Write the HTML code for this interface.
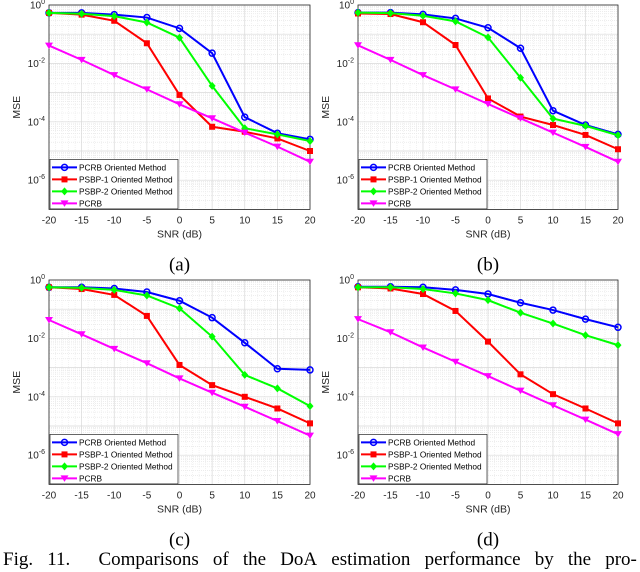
<!DOCTYPE html>
<html><head><meta charset="utf-8"><style>
html,body{margin:0;padding:0;background:#fff;width:640px;height:572px;overflow:hidden}
svg{display:block}
.cap{position:absolute;top:549px;font:19px "Liberation Serif",serif;color:#000;white-space:nowrap}
</style></head><body>
<svg id="fig" width="640" height="572" style="position:absolute;left:0;top:0"></svg>
<div class="cap" style="left:3px;width:634px;display:flex;justify-content:space-between"><span>Fig.</span><span>11.</span><span style="margin-left:14px">Comparisons</span><span>of</span><span>the</span><span>DoA</span><span>estimation</span><span>performance</span><span>by</span><span>the</span><span>pro-</span></div>
<script>
const snr=[-20,-15,-10,-5,0,5,10,15,20];
const xTicks=[-20,-15,-10,-5,0,5,10,15,20];
const yTicks=[0,-2,-4,-6];
const seriesNames=["PCRB Oriented Method","PSBP-1 Oriented Method","PSBP-2 Oriented Method","PCRB"];
// log10(MSE) per panel
const aBlue=[-0.27,-0.27,-0.33,-0.43,-0.8,-1.65,-3.84,-4.39,-4.6];
const aRed=[-0.27,-0.33,-0.54,-1.31,-3.08,-4.17,-4.34,-4.57,-5.0];
const aGreen=[-0.27,-0.3,-0.38,-0.6,-1.12,-2.77,-4.22,-4.43,-4.66];
const aMag=[-1.39,-1.88,-2.4,-2.89,-3.4,-3.88,-4.37,-4.85,-5.37];
const bBlue=[-0.26,-0.26,-0.32,-0.46,-0.78,-1.48,-3.62,-4.11,-4.43];
const bRed=[-0.29,-0.31,-0.59,-1.37,-3.2,-3.82,-4.11,-4.45,-4.94];
const bGreen=[-0.26,-0.28,-0.37,-0.56,-1.11,-2.49,-3.89,-4.14,-4.46];
const bMag=[-1.38,-1.88,-2.4,-2.89,-3.39,-3.88,-4.37,-4.86,-5.37];
const cBlue=[-0.25,-0.25,-0.29,-0.41,-0.71,-1.29,-2.15,-3.04,-3.08];
const cRed=[-0.25,-0.31,-0.51,-1.23,-2.91,-3.6,-4.0,-4.4,-4.91];
const cGreen=[-0.25,-0.27,-0.34,-0.53,-0.97,-1.94,-3.25,-3.71,-4.32];
const cMag=[-1.37,-1.86,-2.36,-2.85,-3.37,-3.86,-4.34,-4.83,-5.33];
const dBlue=[-0.23,-0.23,-0.25,-0.34,-0.48,-0.78,-1.03,-1.34,-1.62];
const dRed=[-0.25,-0.29,-0.48,-1.06,-2.11,-3.23,-3.91,-4.4,-4.91];
const dGreen=[-0.25,-0.25,-0.31,-0.46,-0.69,-1.12,-1.49,-1.89,-2.23];
const dMag=[-1.34,-1.79,-2.31,-2.8,-3.29,-3.79,-4.29,-4.78,-5.28];

const NS="http://www.w3.org/2000/svg";
const svg=document.getElementById('fig');
function mk(tag,attrs,parent){const e=document.createElementNS(NS,tag);for(const k in attrs)e.setAttribute(k,attrs[k]);(parent||svg).appendChild(e);return e;}
const colors=["#0000ff","#ff0000","#00ff00","#ff00ff"];
const markers=["circle","square","diamond","tri"];
function marker(g,type,x,y,c){
  let e;
  if(type==="circle"){e=mk('circle',{cx:x,cy:y,r:3,fill:'none',stroke:c,'stroke-width':1.5},g);}
  else if(type==="square"){e=mk('rect',{x:x-3,y:y-3,width:6,height:6,fill:c},g);}
  else if(type==="diamond"){e=mk('polygon',{points:`${x},${y-4} ${x+3.5},${y} ${x},${y+4} ${x-3.5},${y}`,fill:c},g);}
  else {e=mk('polygon',{points:`${x-4},${y-3} ${x+4},${y-3} ${x},${y+3.5}`,fill:c},g);}
  
  
}
function panel(id,L,R,T,label,data){
  const g=mk('g',{});
  
  
  const xs=v=>L+(v+20)/40*(R-L);
  const ys=v=>T-v*29.2;
  const bottom=ys(-7);
  for(let d=0;d>-7;d--){for(let m=2;m<10;m++){const y=ys(d-1+Math.log10(m));mk('line',{x1:L,x2:R,y1:y,y2:y,stroke:'#e2e2e2','stroke-width':0.6,'stroke-dasharray':'1,1'},g);}}
  for(let x=-20;x<=20;x+=1){if(x%5){const X=xs(x);mk('line',{x1:X,x2:X,y1:T,y2:bottom,stroke:'#eaeaea','stroke-width':0.6,'stroke-dasharray':'1,1'},g);}}
  for(let d=0;d>=-7;d--){const y=ys(d);mk('line',{x1:L,x2:R,y1:y,y2:y,stroke:'#d8d8d8','stroke-width':0.7},g);}
  xTicks.forEach(v=>{const X=xs(v);mk('line',{x1:X,x2:X,y1:T,y2:bottom,stroke:'#d8d8d8','stroke-width':0.7},g);
    const t=mk('text',{x:X,y:bottom+14,'text-anchor':'middle','font-size':10,'font-family':'Liberation Sans, sans-serif',fill:'#262626'},g);t.textContent=v;
    });
  yTicks.forEach(v=>{const y=ys(v);const t=mk('text',{x:L-4,y:y+3.5,'text-anchor':'end','font-size':10,'font-family':'Liberation Sans, sans-serif',fill:'#262626'},g);
    t.innerHTML=`10<tspan dy="-4.5" font-size="7">${v}</tspan>`;
    });
  const fr=mk('rect',{x:L,y:T,width:R-L,height:bottom-T,fill:'none',stroke:'#262626','stroke-width':0.8},g);
  
  const xl=mk('text',{x:(L+R)/2,y:bottom+28,'text-anchor':'middle','font-size':10.5,'font-family':'Liberation Sans, sans-serif',fill:'#262626'},g);xl.textContent='SNR (dB)';
  
  const yl=mk('text',{x:0,y:0,'text-anchor':'middle','font-size':10.5,'font-family':'Liberation Sans, sans-serif',fill:'#262626',transform:`translate(${L-29},${(T+bottom)/2}) rotate(-90)`},g);yl.textContent='MSE';
  
  data.forEach((s,i)=>{
    const sg=mk('g',{},g);
    
    
    mk('polyline',{points:s.map((v,j)=>xs(snr[j])+','+ys(v)).join(' '),fill:'none',stroke:colors[i],'stroke-width':2},sg);
    s.forEach((v,j)=>marker(sg,markers[i],xs(snr[j]),ys(v),colors[i]));
  });
  const lg=mk('g',{},g);
  
  
  const lw=128;
  mk('rect',{x:L+1,y:bottom-50,width:lw,height:49.5,fill:'#fff',stroke:'#262626','stroke-width':0.7},lg);
  seriesNames.forEach((n,i)=>{
    const y=bottom-42+i*12;
    const eg=mk('g',{},lg);
    
    
    mk('line',{x1:L+3,x2:L+28,y1:y,y2:y,stroke:colors[i],'stroke-width':2},eg);
    marker(eg,markers[i],L+15.5,y,colors[i]);
    const t=mk('text',{x:L+30,y:y+3,'font-size':8.3,'font-family':'Liberation Sans, sans-serif',fill:'#000'},eg);t.textContent=n;
  });
  const pl=mk('text',{x:(L+R)/2,y:bottom+61,'text-anchor':'middle','font-size':19,'font-family':'Liberation Serif, serif',fill:'#000'},g);pl.textContent=label;
  
}
panel('a',49,310,5,'(a)',[aBlue,aRed,aGreen,aMag]);
panel('b',358,618,5,'(b)',[bBlue,bRed,bGreen,bMag]);
panel('c',49,310,280,'(c)',[cBlue,cRed,cGreen,cMag]);
panel('d',358,618,280,'(d)',[dBlue,dRed,dGreen,dMag]);
</script>
</body></html>
